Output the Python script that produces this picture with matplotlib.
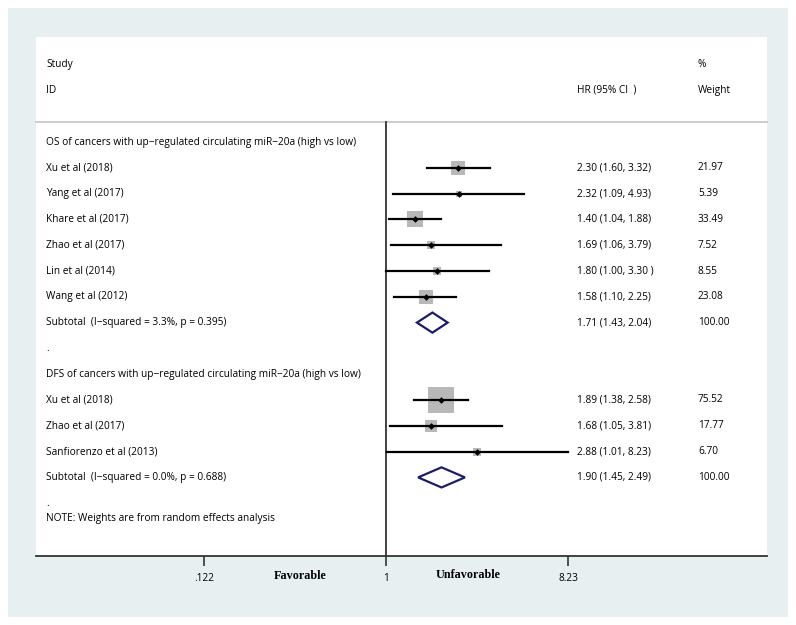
import numpy as np
import matplotlib
matplotlib.use("Agg")
import matplotlib.pyplot as plt
from matplotlib.patches import Rectangle, Polygon
from matplotlib.transforms import blended_transform_factory

# Study rows (label, HR, lower, upper, weight); None = text-only row
labels = ["OS of cancers with up\u2212regulated circulating miR\u221220a (high vs low)",
          "Xu et al (2018)", "Yang et al (2017)", "Khare et al (2017)",
          "Zhao et al (2017)", "Lin et al (2014)", "Wang et al (2012)",
          "Subtotal  (I\u2212squared = 3.3%, p = 0.395)",
          ".",
          "DFS of cancers with up\u2212regulated circulating miR\u221220a (high vs low)",
          "Xu et al (2018)", "Zhao et al (2017)", "Sanfiorenzo et al (2013)",
          "Subtotal  (I\u2212squared = 0.0%, p = 0.688)",
          "."]
hr = [None, 2.30, 2.32, 1.40, 1.69, 1.80, 1.58, 1.71, None, None, 1.89, 1.68, 2.88, 1.90, None]
lo = [None, 1.60, 1.09, 1.04, 1.06, 1.00, 1.10, 1.43, None, None, 1.38, 1.05, 1.01, 1.45, None]
hi = [None, 3.32, 4.93, 1.88, 3.79, 3.30, 2.25, 2.04, None, None, 2.58, 3.81, 8.23, 2.49, None]
weights = [None, 21.97, 5.39, 33.49, 7.52, 8.55, 23.08, 100.00, None, None, 75.52, 17.77, 6.70, 100.00, None]
hr_text = [None, "2.30 (1.60, 3.32)", "2.32 (1.09, 4.93)", "1.40 (1.04, 1.88)",
           "1.69 (1.06, 3.79)", "1.80 (1.00, 3.30 )", "1.58 (1.10, 2.25)",
           "1.71 (1.43, 2.04)", None, None, "1.89 (1.38, 2.58)",
           "1.68 (1.05, 3.81)", "2.88 (1.01, 8.23)", "1.90 (1.45, 2.49)", None]
is_subtotal = [False, False, False, False, False, False, False, True,
               False, False, False, False, False, True, False]

xticks = [0.122, 1, 8.23]
xtick_labels = [".122", "1", "8.23"]

W, H = 796, 625
fig = plt.figure(figsize=(W / 100, H / 100), dpi=100, facecolor="white")

# light blue outer panel
fig.patches.append(Rectangle((8 / W, 1 - 617 / H), 780 / W, 609 / H,
                             transform=fig.transFigure, facecolor="#e8eff1",
                             edgecolor="none", zorder=-5))

ax_l, ax_r, ax_t, ax_b = 36, 767, 37, 556
ax = fig.add_axes([ax_l / W, 1 - ax_b / H, (ax_r - ax_l) / W, (ax_b - ax_t) / H])
ax.set_facecolor("white")
ax.set_xscale("log")

px_per_log = 86.5
ax.set_xlim(np.exp((ax_l - 386) / px_per_log), np.exp((ax_r - 386) / px_per_log))
row0, step = 142, 25.8
ax.set_ylim((ax_b - row0) / step, (ax_t - row0) / step)

font = "Open Sans"
fs = 7.3
tr = blended_transform_factory(ax.transAxes, ax.transData)
def xa(px):
    return (px - ax_l) / (ax_r - ax_l)

# header
ax.text(xa(46), -3, "Study", transform=tr, va="center", fontsize=fs, family=font)
ax.text(xa(46), -2, "ID", transform=tr, va="center", fontsize=fs, family=font)
ax.text(xa(577), -2, "HR (95% CI  )", transform=tr, va="center", fontsize=fs, family=font)
ax.text(xa(698), -3, "%", transform=tr, va="center", fontsize=fs, family=font)
ax.text(xa(698), -2, "Weight", transform=tr, va="center", fontsize=fs, family=font)
sep_y = (122 - row0) / step
ax.plot([0, 1], [sep_y, sep_y], transform=tr, color="#c8c8c8", lw=1.3, clip_on=False)

# null line
ax.plot([1, 1], [sep_y, (ax_b - row0) / step], color="#333333", lw=1.3, zorder=2)

for i, lab in enumerate(labels):
    ax.text(xa(46), i, lab, transform=tr, va="center", fontsize=fs, family=font)
    if hr[i] is None:
        continue
    ax.text(xa(577), i, hr_text[i], transform=tr, va="center", fontsize=fs, family=font)
    ax.text(xa(698), i, "%.2f" % weights[i], transform=tr, va="center", fontsize=fs, family=font)
    if is_subtotal[i]:
        dh = 0.39
        ax.add_patch(Polygon([(lo[i], i), (hr[i], i - dh), (hi[i], i), (hr[i], i + dh)],
                             closed=True, fill=False, edgecolor="#1c1c6b", lw=1.6, zorder=4))
    else:
        side_px = 2.9 * np.sqrt(weights[i])
        ax.plot([hr[i]], [i], marker="s", markersize=side_px * 0.72, color="#b8b8b8",
                markeredgewidth=0, zorder=3)
        ax.plot([lo[i], hi[i]], [i, i], color="black", lw=1.6, zorder=4)
        ax.plot([hr[i]], [i], marker="D", markersize=3.4, color="black",
                markeredgewidth=0, zorder=5)

ax.text(xa(46), (519 - row0) / step, "NOTE: Weights are from random effects analysis",
        transform=tr, va="center", fontsize=fs, family=font)

# axis
for s in ["top", "left", "right"]:
    ax.spines[s].set_visible(False)
ax.spines["bottom"].set_color("#333333")
ax.spines["bottom"].set_linewidth(1.3)
ax.set_yticks([])
ax.set_xticks(xticks)
ax.set_xticklabels(xtick_labels, fontsize=fs, family=font)
ax.xaxis.set_minor_locator(matplotlib.ticker.NullLocator())
ax.tick_params(axis="x", direction="out", length=7, width=1.2, color="#333333", pad=5)

ax.text(xa(300), (576 - row0) / step, "Favorable", transform=tr, ha="center", va="center",
        fontsize=8.7, family="Liberation Serif", weight="bold", clip_on=False)
ax.text(xa(468), (575 - row0) / step, "Unfavorable", transform=tr, ha="center", va="center",
        fontsize=8.7, family="Liberation Serif", weight="bold", clip_on=False)

fig.savefig("out.png", dpi=100, facecolor="white")
